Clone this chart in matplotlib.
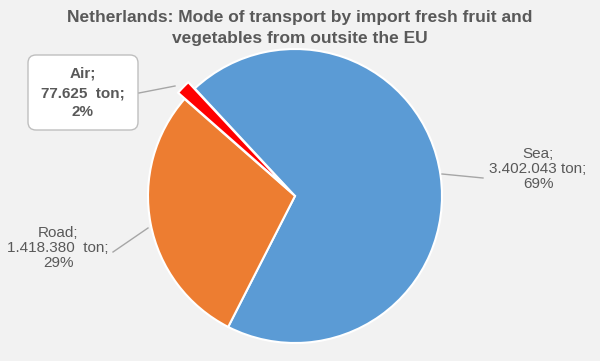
import matplotlib.pyplot as plt
from matplotlib.patches import FancyBboxPatch

plt.rcParams["font.family"] = ["Liberation Sans", "DejaVu Sans"]

# data
modes = ["Sea", "Road", "Air"]
tonnes = [3402043, 1418380, 77625]
tonnes_text = ["3.402.043 ton", "1.418.380  ton", "77.625  ton"]
shares = ["69%", "29%", "2%"]
colors = ["#5B9BD5", "#ED7D31", "#FF0000"]

W, H = 600, 361
BG = "#F2F2F2"
TXT = "#595959"


def main() -> None:
    fig = plt.figure(figsize=(6, 3.61), dpi=100, facecolor=BG)
    # axes in pixel units (y measured from bottom)
    ax = fig.add_axes([0, 0, 1, 1])
    ax.set_xlim(0, W)
    ax.set_ylim(0, H)
    ax.set_aspect("equal")
    ax.axis("off")

    ax.pie(
        tonnes,
        colors=colors,
        startangle=133,
        counterclock=False,
        center=(295, H - 196),
        radius=147,
        explode=[0, 0, 9],
        wedgeprops=dict(edgecolor="white", linewidth=1.5),
    )
    ax.set_xlim(0, W)
    ax.set_ylim(0, H)

    fig.text(
        0.5, 1 - 28 / H,
        "Netherlands: Mode of transport by import fresh fruit and\nvegetables from outsite the EU",
        ha="center", va="center", fontsize=12.5, fontweight="bold",
        color=TXT, linespacing=1.5,
    )

    lead = dict(color="#A6A6A6", linewidth=1)

    # Sea label
    ax.plot([442, 483], [H - 174, H - 178], **lead)
    ax.text(538, H - 169, f"{modes[0]};\n{tonnes_text[0]};\n{shares[0]}",
            ha="center", va="center", fontsize=11, color=TXT, linespacing=1.05)

    # Road label
    ax.plot([113, 148], [H - 252, H - 228], **lead)
    ax.text(58, H - 248, f"{modes[1]};\n{tonnes_text[1]};\n{shares[1]}",
            ha="center", va="center", fontsize=11, color=TXT, linespacing=1.05)

    # Air label in rounded box
    ax.plot([139, 175], [H - 93, H - 86], **lead)
    box = FancyBboxPatch((28 + 8, H - 130 + 8), 110 - 16, 75 - 16,
                         boxstyle="round,pad=8", facecolor="white",
                         edgecolor="#BFBFBF", linewidth=1)
    ax.add_patch(box)
    ax.text(83, H - 93, f"{modes[2]};\n{tonnes_text[2]};\n{shares[2]}",
            ha="center", va="center", fontsize=11, color=TXT,
            fontweight="bold", linespacing=1.5)

    fig.savefig("out.png", dpi=100, facecolor=BG)
    plt.close(fig)


if __name__ == "__main__":
    main()
